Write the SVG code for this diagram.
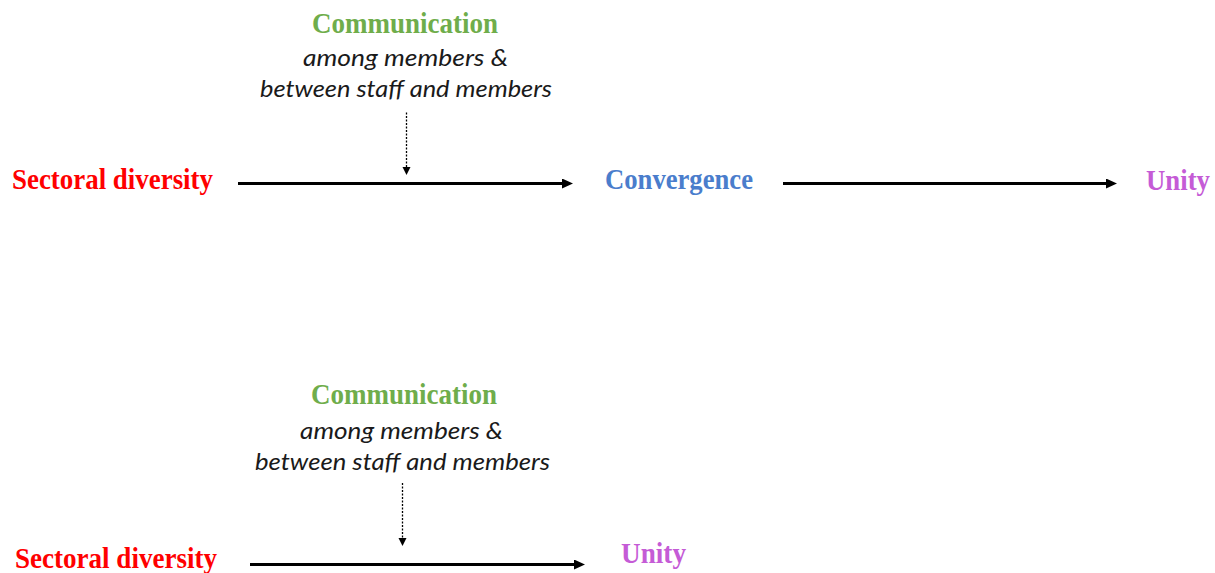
<svg xmlns="http://www.w3.org/2000/svg" width="1215" height="573" viewBox="0 0 1215 573">
  <style>
    .head { font-family: "Liberation Serif", "Times New Roman", serif; font-weight: bold; font-size: 28.5px; }
    .note { font-family: Lato, "Open Sans", sans-serif; font-style: italic; font-size: 24px; fill: #1a1a1a; }
    .red { fill: #ff0000; }
    .green { fill: #6fad4b; }
    .blue { fill: #4a7dcc; }
    .purple { fill: #c55bd6; }
    .flow { stroke: #000; stroke-width: 3; fill: none; }
    .cue { stroke: #000; stroke-width: 1.3; stroke-dasharray: 2 1.5; fill: none; }
  </style>
  <defs>
    <marker id="solidHead" markerUnits="userSpaceOnUse" markerWidth="14" markerHeight="12" refX="3" refY="5" orient="auto">
      <path d="M0,0 L11,5 L0,10 z" fill="#000"/>
    </marker>
    <marker id="cueHead" markerUnits="userSpaceOnUse" markerWidth="12" markerHeight="12" refX="1" refY="4" orient="auto">
      <path d="M0,0 L8,4 L0,8 z" fill="#000"/>
    </marker>
  </defs>
  <rect width="1215" height="573" fill="#fff"/>

  <!-- upper model: diversity, convergence, unity -->
  <g id="comm-top">
    <text class="head green" x="312" y="33" textLength="186" lengthAdjust="spacingAndGlyphs">Communication</text>
    <text class="note" x="303" y="66" textLength="205" lengthAdjust="spacingAndGlyphs">among members &amp;</text>
    <text class="note" x="260" y="97" textLength="292" lengthAdjust="spacingAndGlyphs">between staff and members</text>
  </g>
  <g id="diversity-top">
    <text class="head red" x="12" y="189" textLength="201" lengthAdjust="spacingAndGlyphs">Sectoral diversity</text>
  </g>
  <g id="convergence-top">
    <text class="head blue" x="605" y="188.5" textLength="148" lengthAdjust="spacingAndGlyphs">Convergence</text>
  </g>
  <g id="unity-top">
    <text class="head purple" x="1146" y="189.5" textLength="64" lengthAdjust="spacingAndGlyphs">Unity</text>
  </g>

  <!-- lower model: diversity straight to unity -->
  <g id="comm-bottom">
    <text class="head green" x="311" y="404" textLength="186" lengthAdjust="spacingAndGlyphs">Communication</text>
    <text class="note" x="300" y="438.5" textLength="203" lengthAdjust="spacingAndGlyphs">among members &amp;</text>
    <text class="note" x="255" y="469.5" textLength="295" lengthAdjust="spacingAndGlyphs">between staff and members</text>
  </g>
  <g id="diversity-bottom">
    <text class="head red" x="15" y="567.5" textLength="202" lengthAdjust="spacingAndGlyphs">Sectoral diversity</text>
  </g>
  <g id="unity-bottom">
    <text class="head purple" x="621" y="562.5" textLength="65" lengthAdjust="spacingAndGlyphs">Unity</text>
  </g>

  <g id="connectors">
    <line class="flow" x1="238" y1="183.5" x2="565" y2="183.5" marker-end="url(#solidHead)"/>
    <line class="flow" x1="783" y1="183.5" x2="1109" y2="183.5" marker-end="url(#solidHead)"/>
    <line class="cue" x1="406.5" y1="112.5" x2="406.5" y2="168" marker-end="url(#cueHead)"/>

    <line class="flow" x1="250" y1="564.5" x2="577" y2="564.5" marker-end="url(#solidHead)"/>
    <line class="cue" x1="402.5" y1="483" x2="402.5" y2="539" marker-end="url(#cueHead)"/>
  </g>
</svg>
